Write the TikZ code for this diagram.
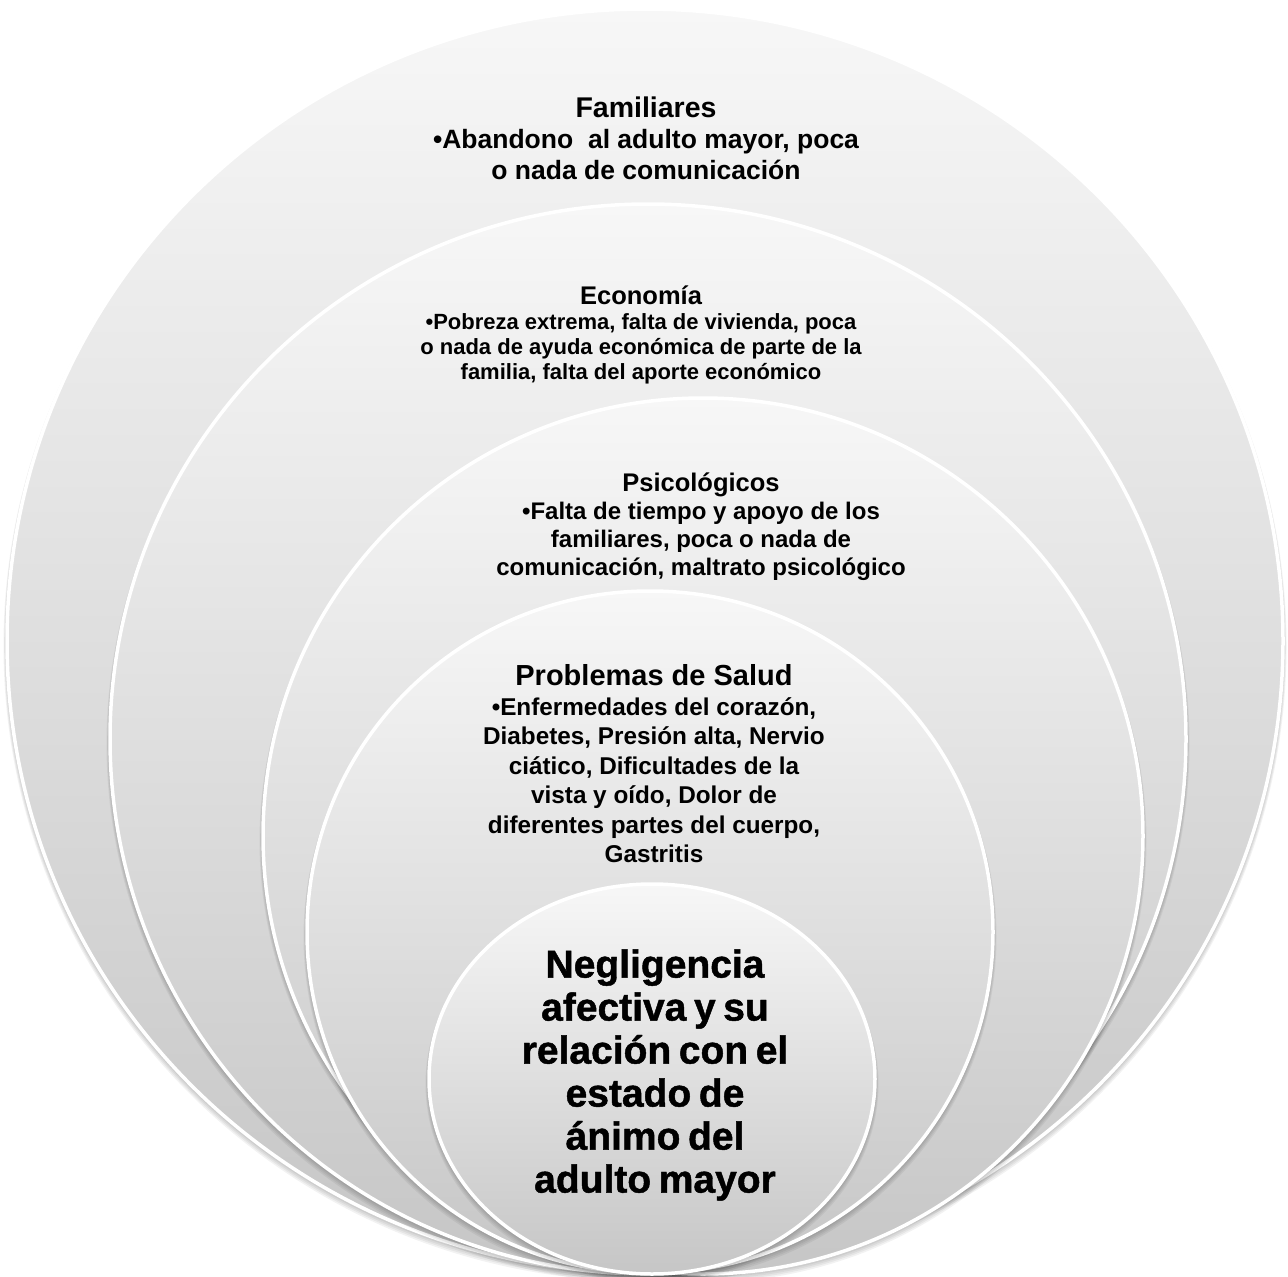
\documentclass[tikz,border=0pt]{standalone}
\usepackage{fontspec}
\setmainfont{Liberation Sans}
\newfontfamily\heavyfont{Liberation Sans}[FakeBold=1.2, WordSpace=0.7]
\usetikzlibrary{shapes.geometric}
\definecolor{topc}{HTML}{F7F7F7}
\definecolor{botc}{HTML}{C6C6C6}
\newcommand\mydisc[5]{%
  \foreach \k in {1,...,5}{%
    \fill[black, opacity=0.05] (#2,#3+\k) ellipse [x radius=#4pt+\k*0.7pt, y radius=#5pt+\k*0.7pt];}
  \node[disc, minimum width=2*#4, minimum height=2*#5] (#1) at (#2,#3) {};}
\begin{document}
\begin{tikzpicture}[x=1pt,y=-1pt,
  disc/.style={ellipse, draw=white, line width=3.5pt, top color=topc, bottom color=botc, inner sep=0pt},
  lbl/.style={align=center, text=black}]
\useasboundingbox (0,0) rectangle (1288,1277);
\fill[white] (0,0) rectangle (1288,1277);
\mydisc{c1}{645}{641}{638}{632}
\mydisc{c2}{648}{739}{538}{535}
\mydisc{c3}{703}{836}{440}{438}
\mydisc{c4}{650}{932}{343}{341}
\mydisc{c5}{652}{1079}{223}{195}

\node[lbl, font=\bfseries\fontsize{26.5}{31}\selectfont] (t1) at (646,138)
  {{\fontsize{28.5}{31}\selectfont Familiares}\\ •Abandono\ \ al adulto mayor, poca\\ o nada de comunicación};
\node[lbl, font=\bfseries\fontsize{22}{25}\selectfont] (t2) at (641,335)
  {{\fontsize{25.5}{25}\selectfont Economía}\\ •Pobreza extrema, falta de vivienda, poca\\ o nada de ayuda económica de parte de la\\ familia, falta del aporte económico};
\node[lbl, font=\bfseries\fontsize{24}{28}\selectfont] (t3) at (701,527)
  {{\fontsize{25.5}{28}\selectfont Psicológicos}\\ •Falta de tiempo y apoyo de los\\ familiares, poca o nada de\\ comunicación, maltrato psicológico};
\node[lbl, font=\bfseries\fontsize{24.3}{29.5}\selectfont] (t4) at (654,764)
  {{\fontsize{29}{29.5}\selectfont Problemas de Salud}\\ •Enfermedades del corazón,\\ Diabetes, Presión alta, Nervio\\ ciático, Dificultades de la\\ vista y oído, Dolor de\\ diferentes partes del cuerpo,\\ Gastritis};
\node[lbl, font=\heavyfont\bfseries\fontsize{39}{43}\selectfont] (t5) at (655,1075)
  {Negligencia\\ afectiva y su\\ relación con el\\ estado de\\ ánimo del\\ adulto mayor};
\end{tikzpicture}
\end{document}
